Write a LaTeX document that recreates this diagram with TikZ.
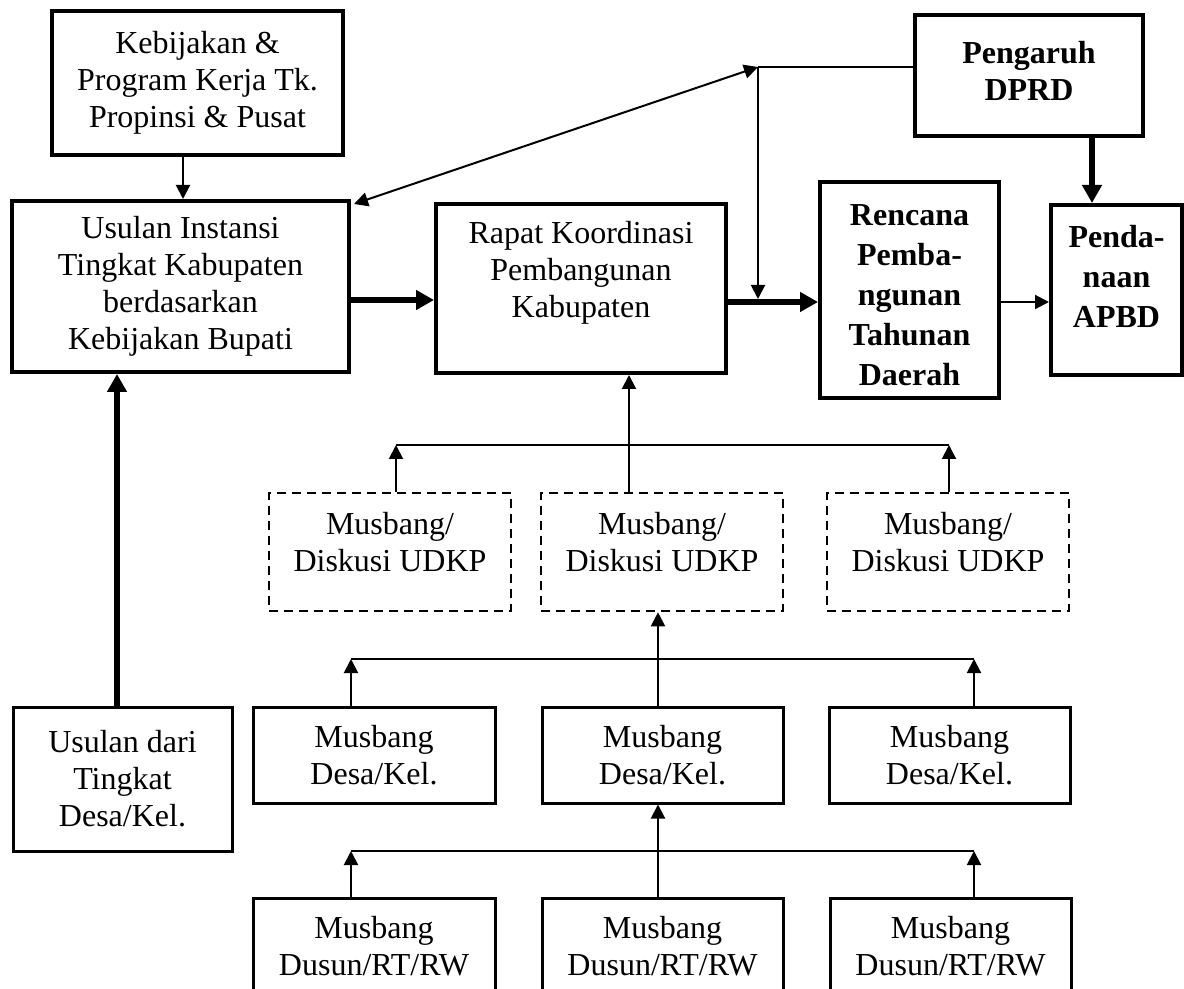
\documentclass[tikz,border=0pt]{standalone}
\usepackage{fontspec}
\setmainfont{Liberation Serif}
\usetikzlibrary{arrows.meta,calc}

\begin{document}
\begin{tikzpicture}[x=0.5pt,y=-0.5pt,
  sz/.style 2 args={minimum width={#1*0.5pt}, minimum height={#2*0.5pt}},
  heavybox/.style={draw, line width=2pt, inner sep=0pt},
  lightbox/.style={draw, line width=1.5pt, inner sep=0pt},
  dashbox/.style={draw, line width=1.3pt, dash pattern=on 4.5pt off 3pt, inner sep=0pt},
  txt/.style={align=center, font=\fontsize{16}{18.5}\selectfont},
  btxt/.style={align=center, font=\fontsize{16}{20}\selectfont\bfseries},
  wire/.style={line width=1pt},
  lnk/.style={line width=1pt, -{Triangle[length=7pt,width=7pt]}},
  hvy/.style={line width=3pt, -{Triangle[length=9pt,width=9.5pt]}},
]
\clip (0,0) rectangle (1184,989);

% upper level: district planning
\node[heavybox, sz={291}{144}, label={[txt]center:{Kebijakan \&\\Program Kerja Tk.\\Propinsi \& Pusat}}] (kebij) at (197.5,83) {};
\node[heavybox, sz={337}{171}, label={[txt]center:{Usulan Instansi\\Tingkat Kabupaten\\berdasarkan\\Kebijakan Bupati}}] (usulan) at (180.5,286.5) {};
\node[heavybox, sz={290}{169}, label={[txt,yshift=8pt]center:{Rapat Koordinasi\\Pembangunan\\Kabupaten}}] (rapat) at (581,288.5) {};
\node[heavybox, sz={179}{216}, label={[btxt,yshift=-2.5pt]center:{Rencana\\Pemba-\\ngunan\\Tahunan\\Daerah}}] (rencana) at (909.5,290) {};
\node[heavybox, sz={228}{121}, label={[btxt,font=\fontsize{16}{18.5}\selectfont\bfseries,yshift=2.5pt]center:{Pengaruh\\DPRD}}] (dprd) at (1029,75.5) {};
\node[heavybox, sz={131}{170}, label={[btxt,yshift=7pt]center:{Penda-\\naan\\APBD}}] (apbd) at (1116.5,290) {};

% sub-district forums
\node[dashbox, sz={242}{118}, label={[txt,yshift=5pt]center:{Musbang/\\Diskusi UDKP}}] (udkp1) at (390,552) {};
\node[dashbox, sz={242}{118}, label={[txt,yshift=5pt]center:{Musbang/\\Diskusi UDKP}}] (udkp2) at (662,552) {};
\node[dashbox, sz={242}{118}, label={[txt,yshift=5pt]center:{Musbang/\\Diskusi UDKP}}] (udkp3) at (948,552) {};

% village level
\node[lightbox, sz={219}{144}, label={[txt]center:{Usulan dari\\Tingkat\\Desa/Kel.}}] (usuldari) at (122.5,779) {};
\node[lightbox, sz={242}{96}, label={[txt]center:{Musbang\\Desa/Kel.}}] (desa1) at (374,755) {};
\node[lightbox, sz={241}{96}, label={[txt]center:{Musbang\\Desa/Kel.}}] (desa2) at (662.5,755) {};
\node[lightbox, sz={241}{96}, label={[txt]center:{Musbang\\Desa/Kel.}}] (desa3) at (949.5,755) {};

% hamlet level
\node[lightbox, sz={242}{96}, label={[txt]center:{Musbang\\Dusun/RT/RW}}] (dusun1) at (374,946) {};
\node[lightbox, sz={241}{96}, label={[txt]center:{Musbang\\Dusun/RT/RW}}] (dusun2) at (662.5,946) {};
\node[lightbox, sz={241}{96}, label={[txt]center:{Musbang\\Dusun/RT/RW}}] (dusun3) at (950.5,946) {};

% top flows
\draw[lnk] ($(kebij.south)+(-14.5,0)$) coordinate (a) -- (a |- usulan.north);
\draw[hvy] ($(usulan.east)+(0,13.5)$) -- ($(rapat.west)+(0,11.5)$);
\draw[hvy] ($(rapat.east)+(0,13.5)$) -- ($(rencana.west)+(0,12)$);
\draw[lnk] ($(rencana.east)+(0,12)$) -- ($(apbd.west)+(0,12)$);
\draw[hvy] ($(dprd.south)+(63,0)$) coordinate (d) -- (d |- apbd.north);

% DPRD influence
\coordinate (j) at (758,67);
\coordinate (k) at ($(rapat.east)+(32,10.5)$);
\draw[wire] ($(dprd.west)+(0,-8.5)$) -- (j);
\draw[lnk] (j) -- (j |- k);
\draw[line width=1pt, {Triangle[length=7pt,width=7pt]}-{Triangle[length=7pt,width=7pt]}] ($(usulan.north east)+(3,5)$) -- (j);

% proposals from villages
\draw[hvy] ($(usuldari.north)+(-5.5,0)$) coordinate (v) -- (v |- usulan.south);

% UDKP to coordination meeting
\coordinate (u1) at (396,445);
\coordinate (u2) at (629,445);
\coordinate (u3) at (949,445);
\draw[wire] (u1) -- (u3);
\draw[lnk] (u1 |- udkp1.north) -- (u1);
\draw[lnk] (u3 |- udkp3.north) -- (u3);
\draw[lnk] (u2 |- udkp2.north) -- (u2 |- rapat.south);

% villages to UDKP
\coordinate (d1) at (351,659);
\coordinate (d2) at (658,659);
\coordinate (d3) at (974,659);
\draw[wire] (d1) -- (d3);
\draw[lnk] (d1 |- desa1.north) -- (d1);
\draw[lnk] (d3 |- desa3.north) -- (d3);
\draw[lnk] (d2 |- desa2.north) -- (d2 |- udkp2.south);

% hamlets to villages
\coordinate (r1) at (351,851);
\coordinate (r2) at (658,851);
\coordinate (r3) at (974,851);
\draw[wire] (r1) -- (r3);
\draw[lnk] (r1 |- dusun1.north) -- (r1);
\draw[lnk] (r3 |- dusun3.north) -- (r3);
\draw[lnk] (r2 |- dusun2.north) -- (r2 |- desa2.south);
\end{tikzpicture}
\end{document}
